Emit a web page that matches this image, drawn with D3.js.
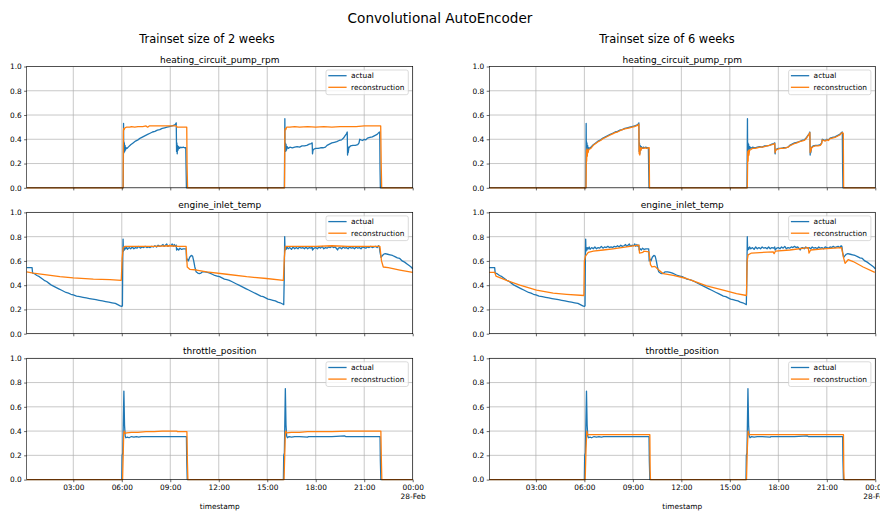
<!DOCTYPE html>
<html>
<head>
<meta charset="utf-8">
<script src="https://cdn.jsdelivr.net/npm/d3@7"></script>
<style>
  body { margin: 0; background: #fff; }
  svg { display: block; font-family: "DejaVu Sans", sans-serif; }
</style>
</head>
<body>
<svg id="chart" width="880" height="513"></svg>
<script>
// ---- Data: [hour of 27-Feb, normalised value] ----
const sensorNames = ["heating_circuit_pump_rpm", "engine_inlet_temp", "throttle_position"];
const trainsetTitles = ["Trainset size of 2 weeks", "Trainset size of 6 weeks"];
const seriesNames = ["actual", "reconstruction"];
const yTickValues = [0, 0.2, 0.4, 0.6, 0.8, 1.0];
const xTickHours = [3, 6, 9, 12, 15, 18, 21, 24];
const startHour = 0.117;
const endHour = 24;

const pumpActual = [
  [0.12,0],[6.09,0],[6.11,0.53],[6.12,0.31],[6.13,0.38],[6.14,0.29],[6.16,0.37],[6.18,0.30],[6.2,0.35],[6.23,0.31],
  [6.27,0.33],[6.33,0.325],[6.4,0.335],[6.55,0.355],[6.7,0.37],[6.85,0.385],[7.0,0.395],[7.15,0.41],[7.3,0.42],
  [7.45,0.43],[7.6,0.44],[7.75,0.45],[7.9,0.46],[8.05,0.465],[8.2,0.475],[8.35,0.48],[8.5,0.49],[8.65,0.495],
  [8.8,0.50],[8.95,0.505],[9.1,0.51],[9.2,0.515],[9.3,0.52],[9.37,0.535],[9.39,0.30],[9.41,0.37],[9.43,0.28],
  [9.45,0.35],[9.48,0.31],[9.52,0.34],[9.58,0.325],[9.65,0.335],[9.72,0.33],[9.8,0.335],[9.88,0.33],[9.96,0.33],
  [9.98,0.15],[10.0,0],
  [16.06,0],[16.09,0.57],[16.1,0.31],[16.12,0.37],[16.14,0.30],[16.16,0.36],[16.19,0.31],[16.23,0.34],[16.3,0.325],
  [16.4,0.335],[16.55,0.33],[16.7,0.335],[16.85,0.34],[17.0,0.335],[17.15,0.345],[17.3,0.345],[17.45,0.35],
  [17.6,0.36],[17.72,0.365],[17.78,0.37],[17.8,0.28],[17.83,0.31],[17.9,0.32],[18.0,0.325],[18.15,0.325],
  [18.3,0.33],[18.45,0.33],[18.6,0.335],[18.7,0.35],[18.85,0.36],[19.0,0.37],[19.15,0.375],[19.3,0.38],
  [19.45,0.39],[19.6,0.395],[19.72,0.41],[19.82,0.43],[19.9,0.445],[19.95,0.46],[19.97,0.27],[19.99,0.34],
  [20.01,0.29],[20.05,0.33],[20.15,0.345],[20.3,0.35],[20.45,0.35],[20.6,0.355],[20.68,0.37],[20.72,0.40],
  [20.8,0.395],[20.9,0.39],[21.0,0.40],[21.1,0.395],[21.2,0.41],[21.35,0.415],[21.5,0.42],[21.65,0.43],
  [21.8,0.44],[21.9,0.455],[21.96,0.46],[21.98,0.15],[22.0,0],[24,0]
];

const pumpRecon2w = [
  [0.12,0],[6.08,0],[6.1,0.47],[6.12,0.49],[6.15,0.48],[6.2,0.495],[6.3,0.50],[6.5,0.50],[6.6,0.505],[6.8,0.50],
  [7.0,0.505],[7.3,0.505],[7.5,0.51],[7.6,0.50],[7.7,0.51],[8.0,0.51],[8.4,0.51],[8.8,0.51],[9.2,0.51],[9.38,0.51],
  [9.42,0.50],[9.7,0.50],[10.02,0.50],[10.04,0.18],[10.07,0],
  [16.07,0],[16.09,0.47],[16.12,0.49],[16.15,0.48],[16.2,0.50],[16.4,0.50],[16.7,0.505],[17.0,0.50],[17.5,0.505],
  [18.0,0.50],[18.5,0.505],[19.0,0.50],[19.5,0.505],[20.0,0.505],[20.5,0.505],[21.0,0.51],[21.5,0.51],
  [22.02,0.51],[22.05,0.20],[22.08,0],[24,0]
];

const pumpRecon6w = [
  [0.12,0],[6.1,0],[6.12,0.21],[6.13,0.31],[6.14,0.22],[6.16,0.32],[6.18,0.26],[6.2,0.31],[6.23,0.29],[6.27,0.315],
  [6.33,0.32],[6.4,0.325],[6.55,0.35],[6.7,0.365],[6.85,0.38],[7.0,0.39],[7.15,0.405],[7.3,0.415],[7.45,0.425],
  [7.6,0.435],[7.75,0.445],[7.9,0.455],[8.05,0.46],[8.2,0.47],[8.35,0.48],[8.5,0.485],[8.65,0.49],[8.8,0.495],
  [8.95,0.50],[9.1,0.505],[9.2,0.51],[9.3,0.515],[9.37,0.525],[9.39,0.28],[9.41,0.34],[9.43,0.27],[9.46,0.33],
  [9.5,0.31],[9.55,0.33],[9.65,0.325],[9.75,0.33],[9.85,0.325],[9.95,0.33],[10.01,0.33],[10.03,0],
  [16.08,0],[16.1,0.20],[16.11,0.30],[16.13,0.22],[16.15,0.31],[16.18,0.27],[16.22,0.31],[16.3,0.315],[16.4,0.325],
  [16.55,0.325],[16.7,0.33],[16.85,0.335],[17.0,0.335],[17.15,0.34],[17.3,0.345],[17.45,0.35],[17.6,0.355],
  [17.72,0.36],[17.78,0.365],[17.8,0.29],[17.83,0.31],[17.9,0.315],[18.0,0.32],[18.15,0.325],[18.3,0.325],
  [18.45,0.33],[18.6,0.335],[18.7,0.345],[18.85,0.355],[19.0,0.365],[19.15,0.37],[19.3,0.38],[19.45,0.385],
  [19.6,0.39],[19.72,0.405],[19.82,0.425],[19.9,0.44],[19.95,0.455],[19.97,0.29],[19.99,0.335],[20.01,0.30],
  [20.05,0.325],[20.15,0.34],[20.3,0.345],[20.45,0.345],[20.6,0.35],[20.68,0.365],[20.72,0.395],[20.8,0.39],
  [20.9,0.385],[21.0,0.395],[21.1,0.39],[21.2,0.405],[21.35,0.41],[21.5,0.415],[21.65,0.425],[21.8,0.435],
  [21.9,0.45],[21.96,0.455],[22.02,0.45],[22.04,0],[24,0]
];

const tempActual = [
  [0.12,0.545],[0.45,0.545],[0.48,0.50],[0.6,0.495],[0.75,0.48],[0.9,0.47],[1.05,0.455],[1.2,0.44],[1.35,0.43],
  [1.5,0.415],[1.65,0.40],[1.8,0.39],[1.95,0.38],[2.1,0.37],[2.25,0.36],[2.4,0.35],[2.55,0.34],[2.7,0.335],
  [2.85,0.325],[3.0,0.32],[3.2,0.31],[3.4,0.305],[3.6,0.30],[3.8,0.295],[4.0,0.29],[4.2,0.285],[4.4,0.28],
  [4.6,0.275],[4.8,0.27],[5.0,0.265],[5.2,0.26],[5.4,0.255],[5.6,0.25],[5.75,0.24],[5.9,0.23],[6.0,0.225],
  [6.04,0.23],[6.06,0.60],[6.08,0.78],[6.1,0.68],[6.13,0.71],[6.16,0.69],[6.2,0.71],[6.25,0.70],[6.3,0.715],
  [6.35,0.695],[6.45,0.71],[6.55,0.70],[6.65,0.715],[6.75,0.70],[6.85,0.71],[6.95,0.705],[7.05,0.72],[7.15,0.705],
  [7.25,0.715],[7.35,0.71],[7.45,0.72],[7.55,0.71],[7.65,0.715],[7.75,0.71],[7.85,0.72],[7.95,0.715],[8.05,0.725],
  [8.15,0.715],[8.25,0.73],[8.35,0.72],[8.45,0.725],[8.55,0.735],[8.62,0.72],[8.7,0.73],[8.78,0.74],[8.85,0.72],
  [8.95,0.73],[9.05,0.725],[9.12,0.74],[9.18,0.72],[9.25,0.735],[9.32,0.72],[9.37,0.73],[9.39,0.69],[9.45,0.70],
  [9.52,0.69],[9.6,0.705],[9.7,0.695],[9.8,0.70],[9.9,0.70],[9.98,0.70],[10.01,0.60],[10.06,0.615],[10.12,0.60],
  [10.2,0.63],[10.3,0.645],[10.38,0.64],[10.45,0.60],[10.52,0.55],[10.6,0.51],[10.7,0.50],[10.8,0.495],
  [10.9,0.50],[11.0,0.51],[11.15,0.51],[11.3,0.505],[11.45,0.50],[11.6,0.49],[11.75,0.48],[11.9,0.475],
  [12.05,0.47],[12.2,0.46],[12.35,0.45],[12.5,0.445],[12.65,0.44],[12.8,0.43],[12.95,0.42],[13.1,0.41],
  [13.25,0.40],[13.4,0.39],[13.55,0.38],[13.7,0.37],[13.85,0.36],[14.0,0.35],[14.15,0.34],[14.3,0.33],
  [14.45,0.32],[14.6,0.31],[14.75,0.305],[14.9,0.295],[15.05,0.285],[15.2,0.28],[15.35,0.275],[15.5,0.27],
  [15.65,0.26],[15.8,0.255],[15.95,0.245],[16.02,0.24],[16.05,0.45],[16.08,0.80],[16.1,0.69],[16.13,0.71],
  [16.17,0.695],[16.22,0.715],[16.3,0.70],[16.4,0.71],[16.5,0.695],[16.6,0.715],[16.7,0.70],[16.8,0.71],
  [16.9,0.70],[17.0,0.715],[17.1,0.705],[17.2,0.71],[17.3,0.70],[17.4,0.715],[17.5,0.70],[17.6,0.71],
  [17.7,0.705],[17.78,0.715],[17.8,0.69],[17.9,0.705],[18.0,0.71],[18.1,0.70],[18.2,0.715],[18.3,0.705],
  [18.4,0.72],[18.5,0.70],[18.6,0.71],[18.7,0.705],[18.8,0.715],[18.9,0.71],[19.0,0.72],[19.1,0.71],
  [19.2,0.715],[19.3,0.70],[19.35,0.69],[19.4,0.705],[19.5,0.71],[19.6,0.70],[19.7,0.715],[19.8,0.705],
  [19.9,0.71],[20.0,0.70],[20.1,0.715],[20.2,0.705],[20.3,0.71],[20.4,0.70],[20.5,0.715],[20.6,0.705],
  [20.7,0.71],[20.8,0.70],[20.9,0.715],[21.0,0.71],[21.1,0.705],[21.2,0.715],[21.3,0.71],[21.4,0.72],
  [21.5,0.71],[21.6,0.715],[21.7,0.72],[21.8,0.71],[21.88,0.725],[21.93,0.72],[21.98,0.67],[22.04,0.63],
  [22.1,0.64],[22.2,0.655],[22.3,0.66],[22.45,0.655],[22.6,0.65],[22.75,0.645],[22.9,0.635],[23.05,0.625],
  [23.2,0.62],[23.35,0.60],[23.5,0.59],[23.65,0.575],[23.8,0.56],[23.9,0.55],[24.0,0.535]
];

const tempRecon2w = [
  [0.12,0.51],[0.52,0.50],[1.35,0.485],[2.17,0.47],[3.0,0.46],[4.24,0.45],[5.27,0.445],[5.97,0.44],[6.02,0.62],
  [6.09,0.71],[6.2,0.72],[7.0,0.72],[8.0,0.72],[9.0,0.725],[9.5,0.72],[9.98,0.72],[10.05,0.55],[10.22,0.53],
  [10.63,0.525],[11.25,0.51],[12.49,0.49],[13.73,0.47],[14.96,0.455],[16.0,0.44],[16.06,0.63],[16.12,0.72],
  [17.0,0.72],[18.0,0.72],[19.0,0.725],[20.0,0.72],[21.0,0.72],[21.97,0.72],[22.07,0.60],[22.18,0.55],
  [22.49,0.545],[23.21,0.525],[24.0,0.505]
];

const tempRecon6w = [
  [0.12,0.505],[0.46,0.505],[0.53,0.475],[1.19,0.44],[2.01,0.40],[3.04,0.36],[4.07,0.335],[4.9,0.325],
  [5.97,0.315],[6.0,0.60],[6.07,0.64],[6.24,0.67],[6.55,0.68],[7.16,0.69],[7.78,0.70],[8.61,0.715],[9.37,0.73],
  [9.41,0.665],[9.62,0.67],[9.66,0.68],[10.0,0.675],[10.09,0.57],[10.18,0.55],[10.36,0.555],[10.57,0.53],
  [10.88,0.495],[11.5,0.48],[12.32,0.455],[12.73,0.435],[13.56,0.395],[14.59,0.36],[15.41,0.33],[16.03,0.315],
  [16.07,0.60],[16.13,0.65],[16.34,0.665],[17.68,0.675],[17.74,0.66],[17.82,0.68],[18.71,0.69],[19.85,0.71],
  [19.9,0.665],[20.0,0.69],[20.77,0.70],[21.91,0.71],[22.05,0.62],[22.13,0.58],[22.32,0.61],[22.63,0.595],
  [23.25,0.55],[23.97,0.505]
];

const throttleActual = [
  [0.12,0],[6.0,0],[6.02,0.20],[6.06,0.22],[6.13,0.73],[6.17,0.45],[6.21,0.36],[6.25,0.345],[6.35,0.35],
  [6.45,0.345],[6.6,0.355],[6.75,0.35],[6.9,0.355],[7.05,0.35],[7.2,0.355],[7.4,0.355],[8.0,0.355],[9.0,0.355],
  [10.0,0.355],[10.02,0.15],[10.05,0],
  [16.0,0],[16.02,0.20],[16.06,0.22],[16.12,0.75],[16.16,0.45],[16.2,0.36],[16.25,0.345],[16.35,0.355],
  [16.5,0.35],[16.7,0.355],[17.0,0.355],[17.5,0.35],[17.55,0.355],[18.0,0.355],[19.0,0.355],[19.8,0.36],
  [19.85,0.355],[21.0,0.355],[21.98,0.355],[22.0,0.15],[22.03,0],[24,0]
];

const throttleRecon2w = [
  [0.12,0],[6.05,0],[6.12,0.38],[6.15,0.40],[6.2,0.38],[6.3,0.385],[6.6,0.39],[7.0,0.39],[7.5,0.395],[8.0,0.395],
  [8.5,0.40],[9.0,0.40],[9.4,0.40],[9.45,0.395],[10.03,0.395],[10.06,0.15],[10.09,0],
  [16.04,0],[16.12,0.39],[16.15,0.40],[16.2,0.385],[16.5,0.39],[17.0,0.39],[17.5,0.395],[18.0,0.395],
  [19.0,0.395],[20.0,0.40],[21.0,0.40],[22.03,0.40],[22.06,0.17],[22.09,0],[24,0]
];

const throttleRecon6w = [
  [0.12,0],[6.05,0],[6.1,0.25],[6.15,0.40],[6.2,0.37],[6.4,0.37],[7.0,0.37],[8.0,0.37],[9.0,0.37],[10.05,0.37],
  [10.07,0.07],[10.09,0],
  [16.03,0],[16.08,0.25],[16.13,0.40],[16.18,0.37],[17.0,0.37],[18.0,0.37],[19.0,0.37],[20.0,0.37],[21.0,0.37],
  [22.03,0.37],[22.05,0.07],[22.07,0],[24,0]
];

// ---- Layout ----
const W = 880, H = 513;
const colors = { actual: "#1f77b4", reconstruction: "#ff7f0e" };
const columns = [
  { left: 26.7, right: 412.7, titleX: 207, title: trainsetTitles[0], recon: [pumpRecon2w, tempRecon2w, throttleRecon2w] },
  { left: 489.3, right: 875.3, titleX: 667, title: trainsetTitles[1], recon: [pumpRecon6w, tempRecon6w, throttleRecon6w] }
];
const actuals = [pumpActual, tempActual, throttleActual];
const rowTops = [66.5, 212.4, 358.3];
const rowHeight = 121.3;

const day0 = new Date(2019, 1, 27);
const at = h => new Date(day0.getTime() + h * 3600000);
const fmtTime = d3.timeFormat("%H:%M");
const fmtDay = d3.timeFormat("%d-%b");

const svg = d3.select("#chart");
svg.append("rect").attr("width", W).attr("height", H).attr("fill", "#fff");

svg.append("text")
  .attr("x", 440).attr("y", 22.5)
  .attr("text-anchor", "middle")
  .attr("font-size", 13.6).attr("fill", "#000")
  .text("Convolutional AutoEncoder");

columns.forEach(col => {
  svg.append("text")
    .attr("x", col.titleX).attr("y", 42.5)
    .attr("text-anchor", "middle")
    .attr("font-size", 11.4).attr("fill", "#000")
    .text(col.title);

  const x = d3.scaleTime().domain([at(startHour), at(endHour)]).range([col.left, col.right]);
  const cx = (col.left + col.right) / 2;

  sensorNames.forEach((name, r) => {
    const top = rowTops[r], bottom = top + rowHeight;
    const y = d3.scaleLinear().domain([0, 1]).range([bottom, top]);
    const g = svg.append("g");

    // grid
    g.append("g").selectAll("line").data(yTickValues).join("line")
      .attr("x1", col.left).attr("x2", col.right)
      .attr("y1", d => y(d)).attr("y2", d => y(d))
      .attr("stroke", "#b0b0b0").attr("stroke-width", 0.7);
    g.append("g").selectAll("line").data(xTickHours).join("line")
      .attr("x1", d => x(at(d))).attr("x2", d => x(at(d)))
      .attr("y1", top).attr("y2", bottom)
      .attr("stroke", "#b0b0b0").attr("stroke-width", 0.7);

    // series: actual underneath, reconstruction on top
    const line = d3.line().x(d => x(at(d[0]))).y(d => y(d[1]));
    [[actuals[r], colors.actual], [col.recon[r], colors.reconstruction]].forEach(([data, c]) => {
      g.append("path").datum(data)
        .attr("d", line)
        .attr("fill", "none").attr("stroke", c)
        .attr("stroke-width", 1.3)
        .attr("stroke-linejoin", "round");
    });

    // frame
    g.append("rect")
      .attr("x", col.left).attr("y", top)
      .attr("width", col.right - col.left).attr("height", rowHeight)
      .attr("fill", "none").attr("stroke", "#000").attr("stroke-width", 0.6);

    // y axis
    const ya = g.append("g").attr("transform", `translate(${col.left},0)`)
      .call(d3.axisLeft(y).tickValues(yTickValues).tickFormat(d3.format(".1f")).tickSize(2.6).tickPadding(2.4));
    ya.select(".domain").remove();
    ya.selectAll("line").attr("stroke", "#000").attr("stroke-width", 0.6);
    ya.selectAll("text").attr("font-size", 7.4).attr("font-family", "DejaVu Sans").attr("fill", "#000");

    // x axis
    const isLast = r === sensorNames.length - 1;
    const xa = g.append("g").attr("transform", `translate(0,${bottom})`)
      .call(d3.axisBottom(x).tickValues(xTickHours.map(at))
        .tickFormat(d => isLast ? fmtTime(d) : "")
        .tickSize(2.6).tickPadding(2.6));
    xa.select(".domain").remove();
    xa.selectAll("line").attr("stroke", "#000").attr("stroke-width", 0.6);
    xa.selectAll("text").attr("font-size", 7.4).attr("font-family", "DejaVu Sans").attr("fill", "#000");
    if (isLast) {
      xa.selectAll(".tick text").each(function (d) {
        if (d.getHours() === 0) {
          const t = d3.select(this).text(null);
          t.append("tspan").attr("x", 0).text(fmtTime(d));
          t.append("tspan").attr("x", 0).attr("dy", "1.2em").text(fmtDay(d));
        }
      });
      g.append("text")
        .attr("x", cx).attr("y", 509)
        .attr("text-anchor", "middle")
        .attr("font-size", 7.4).attr("fill", "#000")
        .text("timestamp");
    }

    // subplot title
    g.append("text")
      .attr("x", cx).attr("y", top - 4)
      .attr("text-anchor", "middle")
      .attr("font-size", 9).attr("fill", "#000")
      .text(name);

    // legend
    const lx = col.right - 86.7, ly = top + 3.5;
    const lg = g.append("g").attr("transform", `translate(${lx},${ly})`);
    lg.append("rect")
      .attr("width", 82.3).attr("height", 24.7).attr("rx", 2)
      .attr("fill", "#fff").attr("fill-opacity", 0.8)
      .attr("stroke", "#cccccc").attr("stroke-width", 0.7);
    seriesNames.forEach((s, i) => {
      const yy = 5.7 + i * 11.6;
      lg.append("line")
        .attr("x1", 2.3).attr("x2", 20.6).attr("y1", yy).attr("y2", yy)
        .attr("stroke", colors[s]).attr("stroke-width", 1.3);
      lg.append("text")
        .attr("x", 25).attr("y", yy).attr("dy", "0.35em")
        .attr("font-size", 7.4).attr("fill", "#000")
        .text(s);
    });
  });
});
</script>
</body>
</html>
